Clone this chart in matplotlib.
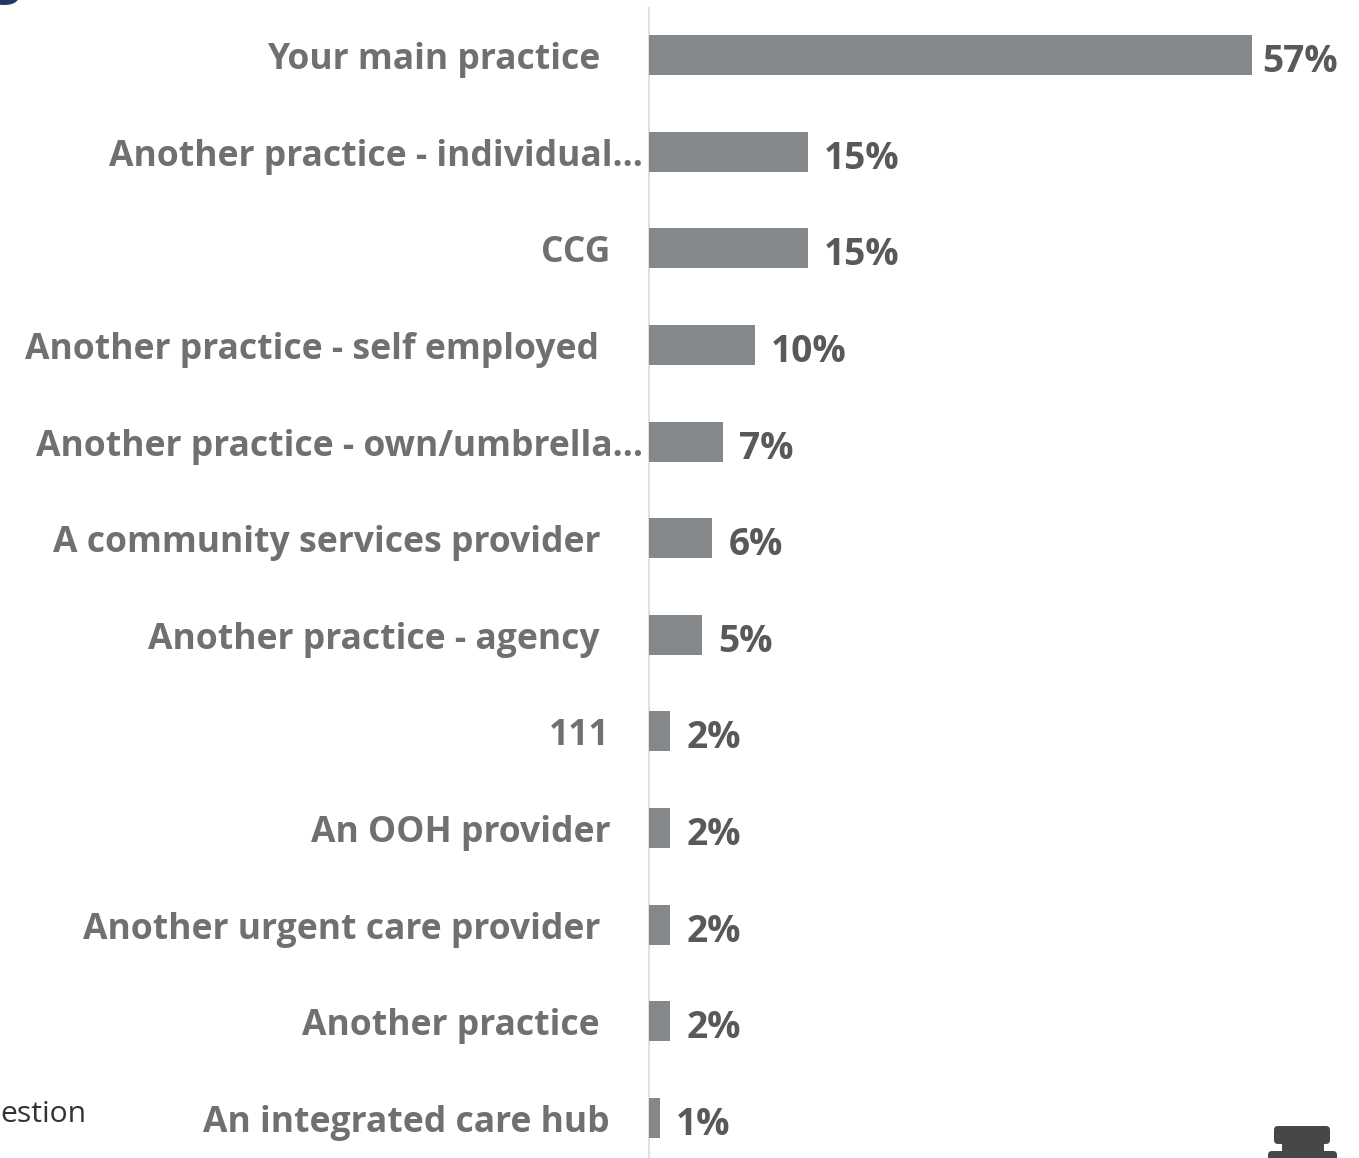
import matplotlib
matplotlib.use("Agg")
import matplotlib.pyplot as plt
from matplotlib.patches import FancyBboxPatch
from matplotlib.transforms import IdentityTransform

categories = ["Your main practice", "Another practice - individual...", "CCG",
              "Another practice - self employed", "Another practice - own/umbrella...",
              "A community services provider", "Another practice - agency", "111",
              "An OOH provider", "Another urgent care provider", "Another practice",
              "An integrated care hub"]
values = [57, 15, 15, 10, 7, 6, 5, 2, 2, 2, 2, 1]

# label right edges wander in the original, gap in px from the axis line
label_gaps = [49, 6, 39, 50, 6, 49, 49, 39, 39, 49, 49, 39]

W, H = 1359, 1158
X0 = 649          # pixel of the zero line
PX_PER_UNIT = 10.58
Y_FIRST = 55      # centre of first bar
ROW = 96.64

plt.rcParams["font.family"] = ["Open Sans", "DejaVu Sans"]

fig = plt.figure(figsize=(W / 100, H / 100), dpi=100)
ax = fig.add_axes([0, 0, 1, 1])
ax.set_xlim(-X0 / PX_PER_UNIT, (W - X0) / PX_PER_UNIT)
ax.set_ylim((H - Y_FIRST) / ROW, -Y_FIRST / ROW)
ax.axis("off")

ax.axvline(0, ymin=0, ymax=1 - 8 / H, color="#e0e0e0", lw=1.5, zorder=1)
rows = range(len(values))
ax.barh(rows, values, height=40 / ROW, color="#85888a", zorder=2)

for i, (name, val, gap) in enumerate(zip(categories, values, label_gaps)):
    ax.annotate(name, xy=(0, i), xytext=(-gap, -5), textcoords="offset pixels",
                ha="right", va="center", fontsize=25.6, fontweight="bold", color="#6f7072")
    # the longest bar has its label pulled in closer
    pad = 10 if val == max(values) else 16
    ax.annotate(f"{val}%", xy=(val, i), xytext=(pad, -7), textcoords="offset pixels",
                ha="left", va="center", fontsize=26.7, fontweight="bold", color="#58595b")

# bits of the surrounding slide, cut off by the crop
fig.text(-8 / W, 1 + 20 / H, "g", fontsize=36, fontweight="bold", color="#1f3864", va="center")
fig.text(0, 1 - 1114 / H, "estion", fontsize=21.7, color="#333333", va="center")

# icon in the corner, y is flipped since these are pixels from the bottom
for x, y, w, h in [(1274, 1126, 56, 18), (1282, 1140, 42, 14), (1268, 1151, 69, 20)]:
    fig.add_artist(FancyBboxPatch((x + 4, H - y - h + 4), w - 8, h - 8, boxstyle="round,pad=4",
                                  transform=IdentityTransform(), fc="#464749", ec="none"))

fig.savefig("out.png", dpi=100)
